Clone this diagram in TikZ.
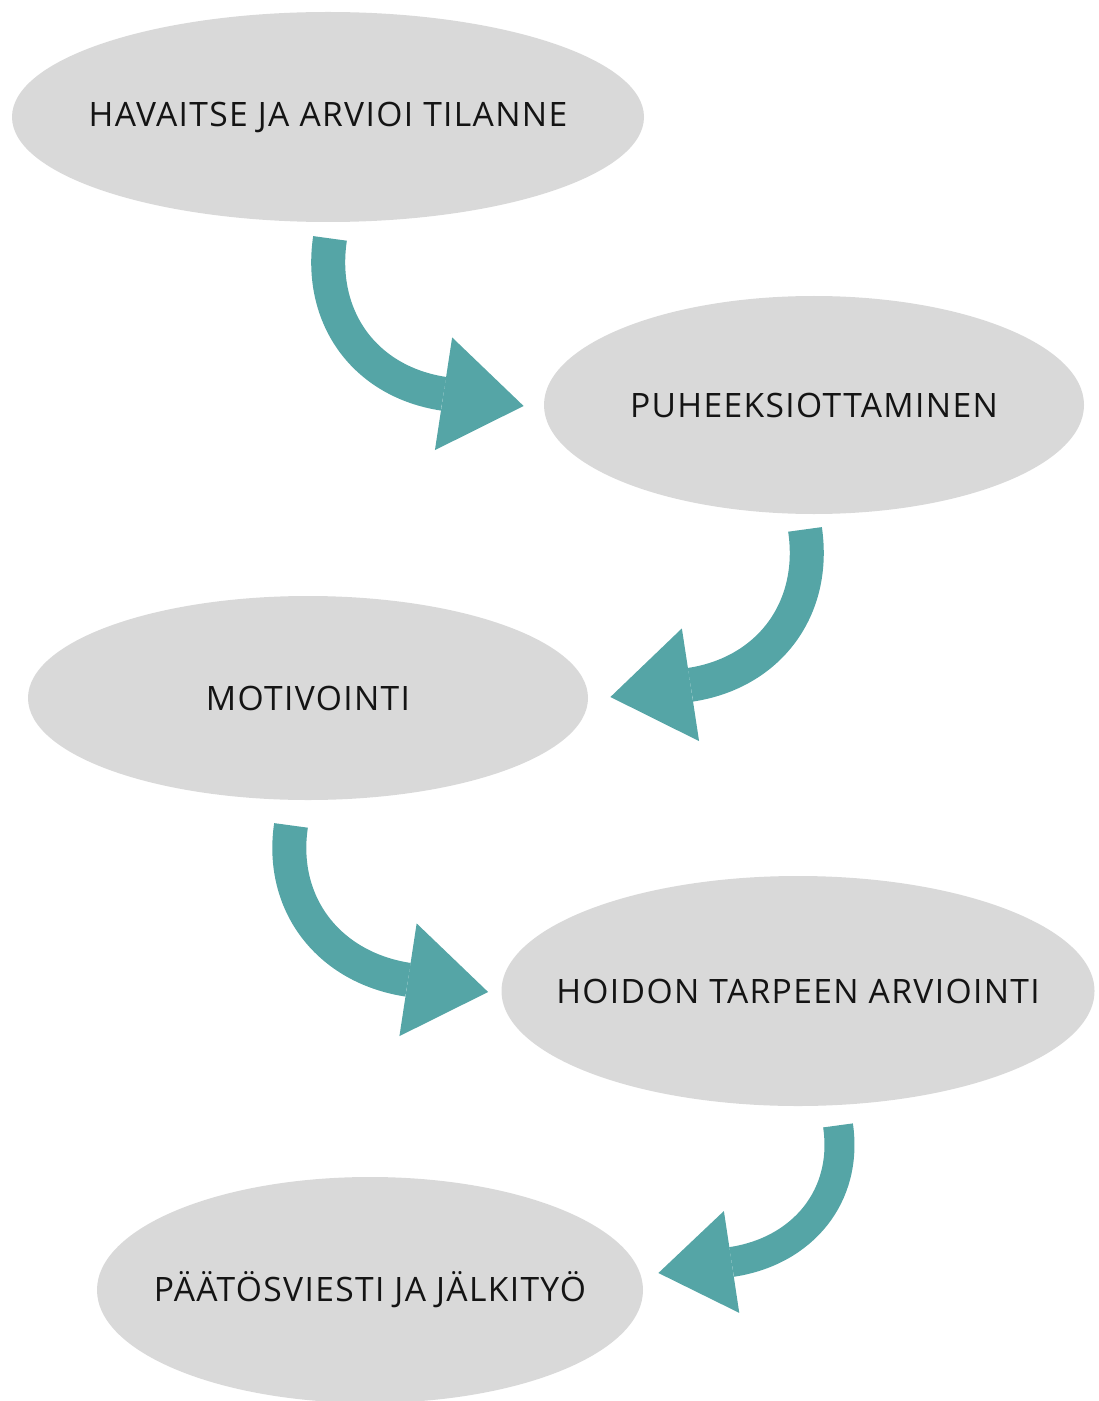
\documentclass[tikz,border=0pt]{standalone}
\usepackage{fontspec}
\usepackage{tikz}
\usetikzlibrary{positioning,arrows.meta,shapes.geometric,calc}
\usepackage{xcolor}
\definecolor{stagegray}{RGB}{217,217,217}
\definecolor{flowteal}{RGB}{85,165,166}
\definecolor{stageink}{RGB}{20,20,20}
\newfontfamily\stagefont[LetterSpace=4]{Open Sans}

\begin{document}
\begin{tikzpicture}[
  x=0.5pt,y=-0.5pt,
  stage/.style={ellipse,fill=stagegray,inner xsep=-70pt,inner ysep=0pt,text=stageink,
                font=\stagefont\fontsize{16.8}{20}\selectfont},
  flow/.style={draw=flowteal,line width=17pt,
               -{Triangle[length=40.5pt,width=57pt,line width=0pt]}},
  flowsmall/.style={draw=flowteal,line width=15pt,
               -{Triangle[length=37pt,width=51.5pt,line width=0pt]}}
]
\useasboundingbox (0,0) rectangle (1098,1401);
\node[stage,minimum width=316pt,minimum height=105pt] (havaitse) at (328,117) {HAVAITSE JA ARVIOI TILANNE};
\node[stage,minimum width=270pt,minimum height=109pt] (puheeksi) at (814,405) {PUHEEKSIOTTAMINEN};
\node[stage,minimum width=280pt,minimum height=102pt] (motivointi) at (308,698) {MOTIVOINTI};
\node[stage,minimum width=296.5pt,minimum height=115pt] (hoidon) at (798,991) {HOIDON TARPEEN ARVIOINTI};
\node[stage,minimum width=273pt,minimum height=113pt] (paatos) at (370,1290) {PÄÄTÖSVIESTI JA JÄLKITYÖ};

% free ends of the arrows
\coordinate (p1) at ($(havaitse.south)+(2,16)$);
\coordinate (q1) at ($(puheeksi.west)+(-20,1)$);
\coordinate (p2) at ($(puheeksi.south)+(-9,15)$);
\coordinate (q2) at ($(motivointi.east)+(22,-1)$);
\coordinate (p3) at ($(motivointi.south)+(-17,25)$);
\coordinate (q3) at ($(hoidon.west)+(-13,1)$);
\coordinate (p4) at ($(hoidon.south)+(40,19)$);
\coordinate (q4) at ($(paatos.east)+(15,-17)$);

\draw[flow] (p1) .. controls +(-11.7,79.1) and +(-159,-24.3) .. (q1);
\draw[flow] (p2) .. controls +(11.7,79.1) and +(159,-24.3) .. (q2);
\draw[flow] (p3) .. controls +(-11.7,79.1) and +(-159,-24.3) .. (q3);
\draw[flowsmall] (p4) .. controls +(10.4,70.4) and +(144.4,-21.8) .. (q4);
\end{tikzpicture}
\end{document}
